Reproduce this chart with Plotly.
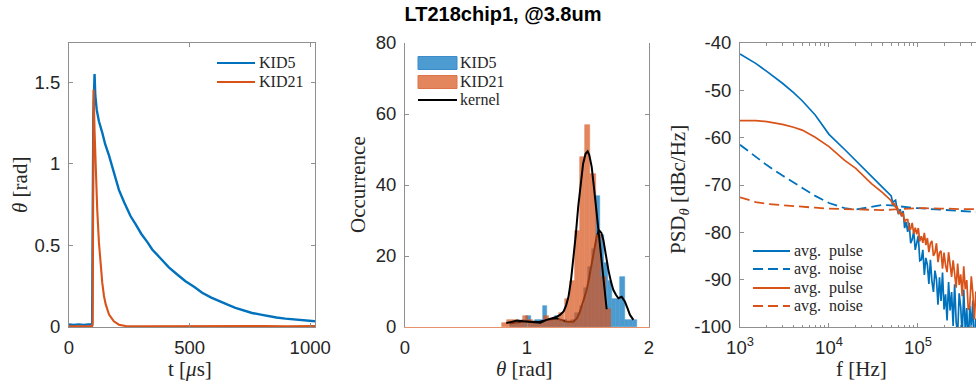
import plotly.graph_objects as go

# ---------------- data ----------------
# Panel 1: pulse traces
t_kid5 = [0, 20, 40, 60, 80, 96, 98, 101, 106, 109, 115, 124, 138, 150, 166, 185, 207, 230, 255, 276,
          300, 325, 345, 380, 414, 450, 483, 520, 552, 590, 621, 660, 690, 725, 759, 795, 828, 860,
          897, 930, 966, 1000, 1020]
theta_kid5 = [0.015, 0.012, 0.016, 0.013, 0.015, 0.015, 0.60, 1.30, 1.55, 1.42, 1.33, 1.26, 1.19, 1.12,
              1.05, 0.95, 0.84, 0.76, 0.68, 0.63, 0.57, 0.52, 0.475, 0.42, 0.365, 0.32, 0.28, 0.245,
              0.21, 0.18, 0.158, 0.135, 0.117, 0.10, 0.086, 0.076, 0.066, 0.058, 0.051, 0.046, 0.041,
              0.037, 0.035]
t_kid21 = [0, 30, 60, 96, 98, 100, 102, 106, 110, 117, 124, 131, 138, 145, 152, 166, 186, 207, 235,
           300, 400, 500, 600, 700, 800, 900, 1020]
theta_kid21 = [0.005, 0.004, 0.006, 0.005, 0.02, 1.20, 1.455, 1.20, 0.97, 0.72, 0.52, 0.38, 0.27, 0.19,
               0.14, 0.076, 0.035, 0.014, 0.006, 0.005, 0.006, 0.004, 0.006, 0.005, 0.006, 0.005, 0.006]

# Panel 2: histograms (bin centres / counts) and kernel fits
hist_theta_kid5 = [0.878, 0.912, 0.945, 0.979, 1.012, 1.046, 1.079, 1.113, 1.146, 1.180, 1.213, 1.247,
                   1.280, 1.314, 1.347, 1.381, 1.414, 1.448, 1.481, 1.515, 1.548, 1.582, 1.615, 1.649,
                   1.682, 1.716, 1.749, 1.783, 1.816, 1.850, 1.883]
hist_count_kid5 = [1, 1, 1, 2, 3, 1, 2, 2, 6, 2, 2, 3, 2, 2, 1, 2, 4, 6, 11, 17, 22, 37, 26, 18, 13,
                   8, 8, 14, 2, 2, 2]
bin_width_kid5 = 0.0335
hist_theta_kid21 = [0.819, 0.861, 0.904, 0.946, 0.989, 1.031, 1.074, 1.116, 1.159, 1.201, 1.244, 1.286,
                    1.329, 1.371, 1.414, 1.456, 1.499, 1.541, 1.584, 1.626, 1.669]
hist_count_kid21 = [1, 2, 2, 1, 3, 2, 1, 1, 3, 2, 2, 4, 8, 13, 27, 48, 57, 43, 26, 14, 5]
bin_width_kid21 = 0.0425

kernel_theta_kid5 = [0.86, 0.92, 0.98, 1.04, 1.10, 1.16, 1.21, 1.243, 1.28, 1.325, 1.38, 1.41, 1.434,
                     1.46, 1.489, 1.51, 1.530, 1.55, 1.571, 1.590, 1.61, 1.626, 1.645, 1.667, 1.69,
                     1.708, 1.73, 1.749, 1.776, 1.803, 1.825, 1.844, 1.872]
kernel_count_kid5 = [1.0, 1.4, 1.6, 1.5, 1.4, 2.0, 2.3, 2.4, 2.0, 1.5, 1.5, 2.5, 4.3, 7.0, 10.4, 14.0,
                     17.9, 21.8, 25.4, 27.3, 26.5, 24.5, 20.5, 16.1, 12.5, 10.4, 9.0, 8.1, 8.5, 7.1,
                     5.2, 3.4, 2.0]
kernel_theta_kid21 = [0.83, 0.87, 0.92, 0.97, 1.00, 1.05, 1.11, 1.16, 1.20, 1.24, 1.27, 1.30, 1.32,
                      1.34, 1.36, 1.38, 1.40, 1.42, 1.44, 1.46, 1.48, 1.497, 1.51, 1.53, 1.55, 1.57,
                      1.59, 1.61, 1.63, 1.653]
kernel_count_kid21 = [1.1, 1.5, 1.8, 1.6, 1.5, 1.4, 1.2, 2.0, 2.4, 2.8, 3.4, 4.4, 6.0, 8.5, 13.0, 19.0,
                      26.0, 34.0, 40.5, 46.0, 48.8, 49.5, 48.5, 45.2, 39.0, 32.0, 25.0, 19.0, 11.5, 5.0]

# Panel 3: PSDs
freq_pulse = [1000, 1500, 2000, 3000, 4000, 5000, 7000, 10000, 15000, 20000, 30000, 40000,
              50000, 52000, 54000, 56000, 58300, 60600, 63000, 65500, 68100, 70800, 73600, 76600,
              79600, 82800, 86100, 89600, 93200, 96900, 100800, 104800, 109000, 113400, 117900,
              122600, 127500, 132600, 137900, 143400, 149200, 155100, 161300, 167800, 174500,
              181500, 188700, 196300, 204100, 212300, 220800, 229600, 238800, 248300, 258300,
              268600, 279300, 290500, 302100, 314200, 326800, 339800, 353400, 367500, 382200,
              397500, 413400, 430000, 447200]
psd_pulse_kid5 = [-42.3, -44.3, -46.0, -48.5, -50.5, -52.2, -55.2, -59.3, -62.5, -64.9, -68.2, -70.5,
                  -72.3, -73.7, -73.4, -73.2, -75.2, -76.2, -75.1, -76.6, -75.5, -79.1, -77.8, -79.9,
                  -78.0, -82.3, -81.5, -79.8, -83.7, -82.4, -80.7, -86.0, -85.8, -83.7, -89.0, -85.4,
                  -86.9, -90.9, -85.8, -90.3, -92.6, -88.1, -89.9, -95.3, -89.5, -94.5, -88.5, -96.3,
                  -93.1, -98.6, -90.5, -96.5, -92.6, -99.8, -91.0, -99.0, -101.4, -92.9, -95.8,
                  -101.7, -92.1, -100.7, -96.0, -104.0, -95.5, -100.2, -94.4, -104.6, -98.2]
psd_pulse_kid21 = [-56.4, -56.4, -56.6, -57.2, -57.8, -58.4, -59.9, -61.9, -64.8, -66.5, -69.7, -71.6,
                   -73.3, -74.2, -73.8, -74.7, -74.6, -76.1, -75.5, -76.6, -75.9, -77.8, -77.3, -77.3,
                   -79.4, -79.3, -78.0, -80.3, -79.0, -80.4, -79.1, -81.9, -80.8, -82.2, -80.1, -82.7,
                   -81.2, -84.2, -82.3, -81.8, -85.0, -84.3, -82.3, -86.3, -84.3, -83.9, -87.7, -84.3,
                   -87.0, -88.4, -84.2, -86.8, -89.4, -85.9, -89.1, -91.7, -86.6, -91.1, -88.9, -93.5,
                   -87.2, -92.0, -90.1, -96.4, -95.3, -89.3, -92.9, -98.4, -92.5]
freq_noise = [1000, 1500, 2000, 3000, 4000, 5000, 7000, 10000, 15000, 20000, 30000, 40000, 50000,
              60000, 70000, 85000, 100000, 120000, 150000, 180000, 220000, 260000, 300000, 360000,
              420000, 450000]
psd_noise_kid5 = [-61.5, -64.1, -65.8, -68.0, -69.5, -70.6, -72.3, -73.8, -74.9, -75.2, -74.6, -74.2,
                  -74.3, -74.5, -74.6, -74.8, -74.9, -75.0, -75.2, -75.3, -75.4, -75.5, -75.5, -75.6,
                  -75.7, -75.7]
psd_noise_kid21 = [-72.6, -73.6, -74.0, -74.3, -74.5, -74.6, -74.8, -75.0, -75.1, -75.2, -75.3, -75.3,
                   -75.2, -75.1, -75.0, -74.9, -74.9, -74.9, -75.0, -75.0, -75.0, -75.1, -75.1, -75.1,
                   -75.1, -75.1]

# legend labels
labels_p1 = ['KID5', 'KID21']
labels_p2 = ['KID5', 'KID21', 'kernel']
labels_p3 = ['avg.&nbsp;&nbsp;pulse', 'avg.&nbsp;&nbsp;noise', 'avg.&nbsp;&nbsp;pulse',
             'avg.&nbsp;&nbsp;noise']

# ---------------- style ----------------
W, H = 976, 392
BLUE = '#0072BD'
ORANGE = '#D95319'
BLUE_FACE = 'rgb(76,156,209)'
ORANGE_FACE = 'rgb(228,134,93)'
SANS = 'Liberation Sans, Arial, sans-serif'
SERIF = 'Liberation Serif, Times New Roman, serif'
TXT = '#262626'
AX = '#8f8f8f'
DASH = '10px,5px'


def px_x(p):
    return p / W


def px_y(p):
    return 1 - p / H


ydom = [px_y(327), px_y(43)]

fig = go.Figure()

# Panel 1
fig.add_trace(go.Scatter(x=t_kid5, y=theta_kid5, mode='lines', name=labels_p1[0],
                         line=dict(color=BLUE, width=2.4), xaxis='x', yaxis='y'))
fig.add_trace(go.Scatter(x=t_kid21, y=theta_kid21, mode='lines', name=labels_p1[1],
                         line=dict(color=ORANGE, width=2.1), xaxis='x', yaxis='y'))

# Panel 2 (KID5 layer, then KID21 layer on an overlaying axis so it sits on top)
fig.add_trace(go.Bar(x=hist_theta_kid5, y=hist_count_kid5, width=bin_width_kid5, name=labels_p2[0],
                     marker=dict(color=BLUE, line=dict(color=BLUE, width=0.6)), opacity=0.7,
                     xaxis='x2', yaxis='y2'))
fig.add_trace(go.Scatter(x=kernel_theta_kid5, y=kernel_count_kid5, mode='lines', name=labels_p2[2],
                         line=dict(color='black', width=2), xaxis='x2', yaxis='y2'))
fig.add_trace(go.Bar(x=hist_theta_kid21, y=hist_count_kid21, width=bin_width_kid21, name=labels_p2[1],
                     marker=dict(color=ORANGE, line=dict(color=ORANGE, width=0.6)), opacity=0.7,
                     xaxis='x2', yaxis='y5'))
fig.add_trace(go.Scatter(x=kernel_theta_kid21, y=kernel_count_kid21, mode='lines', name=labels_p2[2],
                         line=dict(color='black', width=2), xaxis='x2', yaxis='y5'))

# Panel 3
fig.add_trace(go.Scatter(x=freq_pulse, y=psd_pulse_kid5, mode='lines', name=labels_p3[0],
                         line=dict(color=BLUE, width=1.7), xaxis='x3', yaxis='y3'))
fig.add_trace(go.Scatter(x=freq_noise, y=psd_noise_kid5, mode='lines', name=labels_p3[1],
                         line=dict(color=BLUE, width=1.8, dash=DASH), xaxis='x3', yaxis='y3'))
fig.add_trace(go.Scatter(x=freq_pulse, y=psd_pulse_kid21, mode='lines', name=labels_p3[2],
                         line=dict(color=ORANGE, width=1.7), xaxis='x3', yaxis='y3'))
fig.add_trace(go.Scatter(x=freq_noise, y=psd_noise_kid21, mode='lines', name=labels_p3[3],
                         line=dict(color=ORANGE, width=1.8, dash=DASH), xaxis='x3', yaxis='y3'))

tickfont = dict(family=SANS, size=18.5, color=TXT)
base = dict(showline=True, linecolor=AX, linewidth=1, ticks='inside', ticklen=4, tickcolor=AX,
            tickwidth=1, tickfont=tickfont, showgrid=False, zeroline=False, ticklabelstandoff=4)

fig.update_layout(
    width=W, height=H, margin=dict(l=0, r=0, t=0, b=0, autoexpand=False),
    paper_bgcolor='white', plot_bgcolor='white', showlegend=False,
    barmode='overlay', bargap=0,
    title=dict(text='<b>LT218chip1, @3.8um</b>', x=px_x(503), xanchor='center', y=px_y(14),
               yanchor='middle', yref='container', font=dict(family=SANS, size=20, color='#000')),
    xaxis=dict(base, domain=[px_x(69), px_x(315)], range=[0, 1020], tickvals=[0, 500, 1000],
               mirror='ticks', anchor='y'),
    yaxis=dict(base, domain=ydom, range=[0, 1.74], tickvals=[0, 0.5, 1, 1.5],
               ticktext=['0', '0.5', '1', '1.5'], mirror='ticks', anchor='x'),
    xaxis2=dict(base, domain=[px_x(405), px_x(649)], range=[0, 2], tickvals=[0, 1, 2],
                linecolor='#E8926C', mirror=False, anchor='y2'),
    xaxis6=dict(showline=True, linecolor=AX, linewidth=1, ticks='inside', ticklen=4, tickcolor=AX,
                overlaying='x2', side='top', anchor='y2', range=[0, 2], tickvals=[0, 1, 2],
                showticklabels=False, showgrid=False, zeroline=False),
    yaxis2=dict(base, domain=ydom, range=[0, 80], tickvals=[0, 20, 40, 60, 80],
                mirror='ticks', anchor='x2'),
    yaxis5=dict(overlaying='y2', anchor='x2', range=[0, 80], visible=False),
    xaxis3=dict(base, type='log', domain=[px_x(740), 1.0], range=[3, 5.652],
                tickvals=[1e3, 1e4, 1e5],
                ticktext=['10<sup>3</sup>', '10<sup>4</sup>', '10<sup>5</sup>'],
                mirror='ticks', anchor='y3',
                minor=dict(ticks='inside', ticklen=2.5, tickcolor=AX, dtick='D1', showgrid=False)),
    yaxis3=dict(base, domain=ydom, range=[-100, -40], tickvals=[-100, -90, -80, -70, -60, -50, -40],
                ticktext=['-100', '-90', '-80', '-70', '-60', '-50', '-40'], mirror=False,
                anchor='x3'),
)

# axis titles
lab = dict(family=SERIF, size=21, color=TXT)
annots = [
    dict(text='t [<i>μ</i>s]', x=px_x(190), y=px_y(369), textangle=0),
    dict(text='<i>θ</i> [rad]', x=px_x(20), y=px_y(185), textangle=-90),
    dict(text='<i>θ</i> [rad]', x=px_x(524), y=px_y(369), textangle=0),
    dict(text='Occurrence', x=px_x(358), y=px_y(185), textangle=-90),
    dict(text='f [Hz]', x=px_x(861), y=px_y(369), textangle=0),
    dict(text='PSD<sub><i>θ</i></sub> [dBc/Hz]', x=px_x(679), y=px_y(190), textangle=-90),
]
for a in annots:
    fig.add_annotation(xref='paper', yref='paper', showarrow=False, xanchor='center',
                       yanchor='middle', font=lab, **a)

# legends (key + label), drawn in the MATLAB style
legfont = dict(family=SERIF, size=16, color=TXT)


def legend_line(x0, x1, yc, color, dash='solid'):
    fig.add_shape(type='line', xref='paper', yref='paper', x0=px_x(x0), x1=px_x(x1),
                  y0=px_y(yc), y1=px_y(yc), line=dict(color=color, width=2, dash=dash))


def legend_patch(x0, x1, yc, face, edge):
    fig.add_shape(type='rect', xref='paper', yref='paper', x0=px_x(x0), x1=px_x(x1),
                  y0=px_y(yc + 6.5), y1=px_y(yc - 6.5), fillcolor=face, line=dict(color=edge, width=1))


def legend_text(x, yc, text):
    fig.add_annotation(xref='paper', yref='paper', x=px_x(x), y=px_y(yc), text=text,
                       showarrow=False, xanchor='left', yanchor='middle', font=legfont)


# panel 1
legend_line(217, 255, 63, BLUE)
legend_text(257, 63, labels_p1[0])
legend_line(217, 255, 82, ORANGE)
legend_text(257, 82, labels_p1[1])
# panel 2
legend_patch(418, 457, 63, BLUE_FACE, '#3b8ccb')
legend_text(458, 63, labels_p2[0])
legend_patch(418, 457, 82, ORANGE_FACE, '#dc7448')
legend_text(458, 82, labels_p2[1])
legend_line(418, 457, 100, 'black')
legend_text(458, 100, labels_p2[2])
# panel 3
legend_line(753, 790, 251, BLUE)
legend_text(792, 251, labels_p3[0])
legend_line(753, 790, 269, BLUE, DASH)
legend_text(792, 269, labels_p3[1])
legend_line(753, 790, 288, ORANGE)
legend_text(792, 288, labels_p3[2])
legend_line(753, 790, 306, ORANGE, DASH)
legend_text(792, 306, labels_p3[3])

fig.write_html('out.html')
